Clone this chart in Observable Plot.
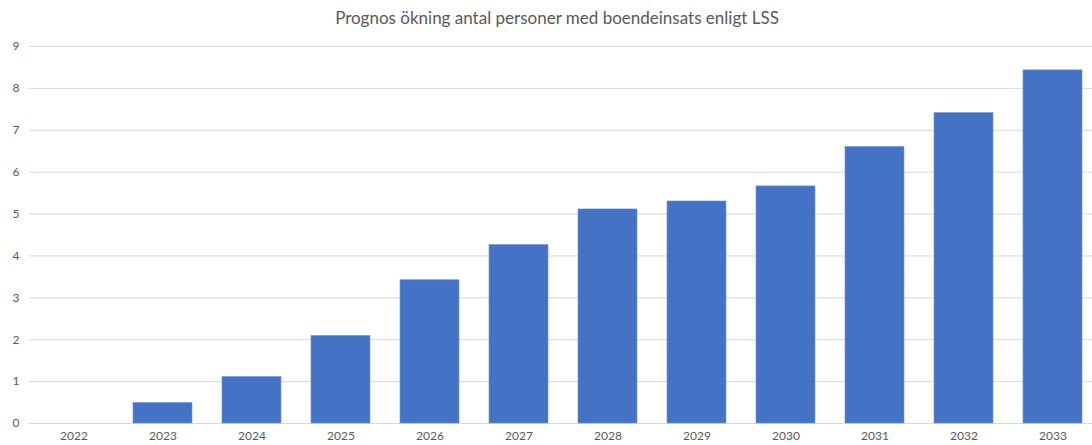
<!DOCTYPE html>
<html>
<head>
<meta charset="utf-8">
<script src="https://cdn.jsdelivr.net/npm/d3@7"></script>
<script src="https://cdn.jsdelivr.net/npm/@observablehq/plot@0.6"></script>
<style>
  html, body { margin: 0; padding: 0; background: #fff; overflow: hidden; }
  #title { height: 36px; box-sizing: border-box; padding-top: 7px; padding-left: 22px; text-align: center; font-family: Lato, "Noto Sans", sans-serif; font-size: 17px; color: #595959; width: 1092px; }
</style>
</head>
<body>
<div id="title">Prognos ökning antal personer med boendeinsats enligt LSS</div>
<div id="chart"></div>
<script>
const titleText = "Prognos ökning antal personer med boendeinsats enligt LSS";
const years = ["2022","2023","2024","2025","2026","2027","2028","2029","2030","2031","2032","2033"];
const values = [0, 0.49, 1.11, 2.09, 3.42, 4.26, 5.11, 5.30, 5.66, 6.60, 7.41, 8.43];
const yTicks = [0,1,2,3,4,5,6,7,8,9];

const data = years.map((y, i) => ({year: y, value: values[i]}));

const chart = Plot.plot({
  width: 1092,
  height: 409,
  marginTop: 10,
  marginBottom: 22,
  marginLeft: 29,
  marginRight: -6,
  style: {fontFamily: "Lato, 'Noto Sans', sans-serif", fontSize: "12px", color: "#595959", background: "#fff"},
  x: {domain: years, paddingInner: 0.337, paddingOuter: 0.1685, label: null, tickSize: 0, tickPadding: 8},
  y: {domain: [0, 9], ticks: yTicks, label: null, tickSize: 0, tickPadding: 10, tickFormat: d => String(d)},
  marks: [
    Plot.ruleY(yTicks, {stroke: "#d9d9d9", strokeWidth: 1}),
    Plot.barY(data, {x: "year", y: "value", fill: "#4472c4", stroke: "#6f93d3", strokeWidth: 0.6}),
    Plot.axisX({tickSize: 0, tickPadding: 8, fill: "#595959"}),
    Plot.axisY({ticks: yTicks, tickSize: 0, tickPadding: 10, fill: "#595959", textAnchor: "end"})
  ]
});
document.getElementById("chart").appendChild(chart);
</script>
</body>
</html>
